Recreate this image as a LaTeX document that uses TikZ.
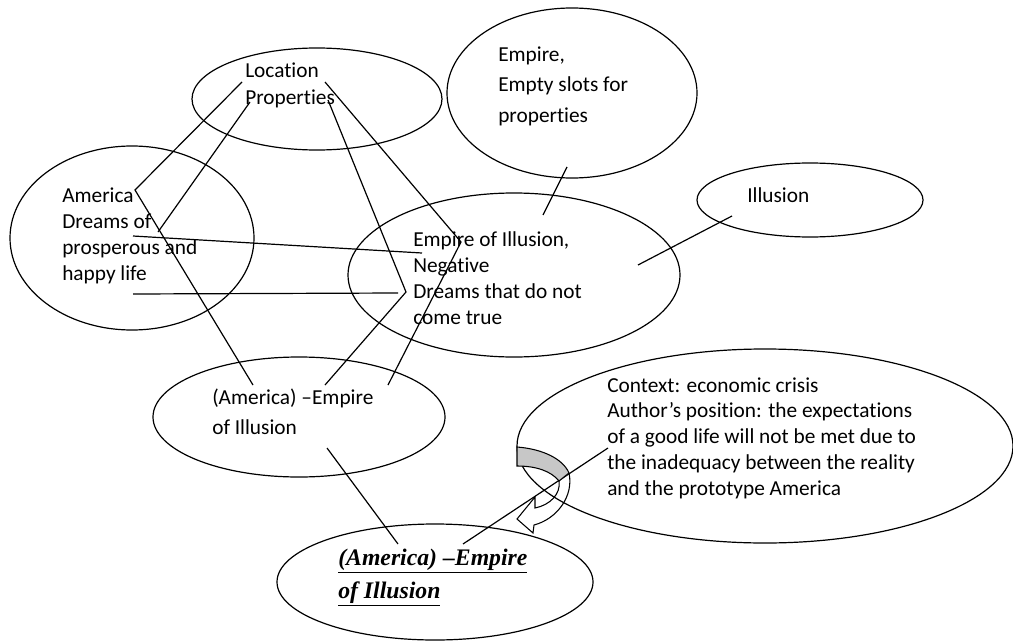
\documentclass[tikz,border=0pt]{standalone}
\usepackage{fontspec}
\setmainfont{Carlito}[Ligatures=NoCommon]
\newfontfamily\headserif{Liberation Serif}
\usetikzlibrary{shapes.geometric}

\begin{document}
\begin{tikzpicture}[x=0.75pt,y=-0.75pt,
  bubble/.style={draw=black, ellipse, line width=0.9pt, inner sep=0pt},
  % texts are placed by the baseline of their last line
  btext/.style={anchor=base west, inner sep=0pt, align=left, text=black},
  body/.style={font=\fontsize{16}{#1}\selectfont},
  link/.style={line width=0.9pt}]
\useasboundingbox (0,0) rectangle (1013,642);

% ellipses
\node[bubble, minimum width=187.5pt, minimum height=76.5pt]  (loc) at (317,99)  {};
\node[bubble, minimum width=187.5pt, minimum height=127.5pt] (emp) at (572,93)  {};
\node[bubble, minimum width=183pt,   minimum height=138pt]   (ame) at (132,238) {};
\node[bubble, minimum width=249pt,   minimum height=123pt]   (eoi) at (514,275) {};
\node[bubble, minimum width=169.5pt, minimum height=55.5pt]  (ill) at (810,200) {};
\node[bubble, minimum width=219pt,   minimum height=90pt]    (aei) at (299,417) {};
\node[bubble, minimum width=372pt,   minimum height=145.5pt] (ctx) at (765,446) {};
\node[bubble, minimum width=237pt,   minimum height=87pt]    (bot) at (435,582) {};

% texts
\node[btext, body=20.25pt] (tloc) at (245,104) {Location\\Properties};
\node[btext, body=22.5pt]  (temp) at (498,122) {Empire,\\Empty slots for\\properties};
\node[btext, body=19.5pt]  (tame) at (62,280)  {America\\Dreams of\\prosperous and\\happy life};
\node[btext, body=19.3pt]  (teoi) at (413,324) {Empire of Illusion,\\Negative\\Dreams that do not\\come true};
\node[btext, body=19.5pt]  (till) at (747,202) {Illusion};
\node[btext, body=22.5pt]  (taei) at (212,434) {(America) –Empire\\of Illusion};
\node[btext, body=19.3pt]  (tctx) at (607,495) {Context: economic crisis\\Author’s position: the expectations\\of a good life will not be met due to\\the inadequacy between the reality\\and the prototype America};
\node[btext, font=\headserif\bfseries\itshape\fontsize{17.8}{24.75}\selectfont] (tbot) at (338,598)
  {\underline{(America) –Empire}\\\underline{of Illusion}};

% connector end points
\coordinate (a1) at (242,82);  \coordinate (a2) at (135,190); \coordinate (a3) at (253,385);
\coordinate (b1) at (250,102); \coordinate (b2) at (158,232);
\coordinate (c1) at (133,236); \coordinate (c2) at (422,253);
\coordinate (d1) at (133,294); \coordinate (d2) at (398,293);
\coordinate (e1) at (325,82);  \coordinate (e2) at (461,242); \coordinate (e3) at (388,385);
\coordinate (f1) at (328,100); \coordinate (f2) at (406,292); \coordinate (f3) at (325,385);
\coordinate (g1) at (567,167); \coordinate (g2) at (543,215);
\coordinate (h1) at (732,216); \coordinate (h2) at (638,265);
\coordinate (i1) at (327,448); \coordinate (i2) at (398,544);
\coordinate (j1) at (463,544); \coordinate (j2) at (608,448);

% connectors
\draw[link] (a1) -- (a2) -- (a3);
\draw[link] (b1) -- (b2);
\draw[link] (c1) -- (c2);
\draw[link] (d1) -- (d2);
\draw[link] (e1) -- (e2) -- (e3);
\draw[link] (f1) -- (f2) -- (f3);
\draw[link] (g1) -- (g2);
\draw[link] (h1) -- (h2);
\draw[link] (i1) -- (i2);
\draw[link] (j1) -- (j2);

% curved arrow at the left of the context bubble
\coordinate (arTop) at (517,447);
\coordinate (arBand) at (569,473);
\coordinate (arInner) at (559,481);
\coordinate (arTip) at (517,519);
\draw[line width=0.8pt, fill=black!22]
  (arTop) .. controls (543,449) and (563,459) .. (arBand)
  -- (arInner) .. controls (551,471) and (536,466) .. (517,466) -- cycle;
\draw[line width=0.8pt]
  (arBand) .. controls (574,496) and (557,519) .. (534,525)
  -- (533,533) -- (arTip) -- (535,497) -- (535,508)
  .. controls (550,505) and (561,494) .. (arInner);
\end{tikzpicture}
\end{document}
